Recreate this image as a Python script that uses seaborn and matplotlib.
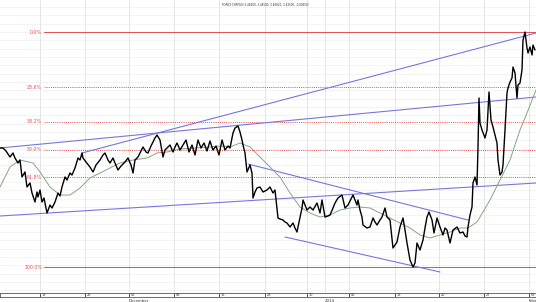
import numpy as np
import pandas as pd
import matplotlib
matplotlib.use("Agg")
import matplotlib.pyplot as plt
import seaborn as sns

sns.set_style("white")
plt.rcParams['font.family'] = ['DejaVu Sans']

title = "FOREX CHFPLN (3.44400, 3.44500, 3.40820, 3.43500, -0.00450)"

# price series: bar index and close
bars = [0,3,6,10,13,15,18,20,22,25,27,30,32,35,37,38,40,42,44,47,50,52,55,58,60,62,65,67,70,72,75,78,80,82,83,86,90,93,96,100,
        103,105,108,110,113,115,118,121,125,128,131,133,135,138,140,143,146,148,151,153,155,157,160,163,165,167,170,173,175,177,
        180,183,186,189,192,195,198,201,204,207,210,213,216,219,222,225,228,230,233,235,238,240,242,243,245,247,250,252,253,255,
        257,260,263,267,270,273,275,278,280,283,285,287,290,293,295,297,298,302,303,305,307,310,313,317,320,322,325,328,330,333,
        335,338,342,345,348,352,353,355,357,358,360,362,363,367,370,373,375,377,380,382,385,387,390,393,395,397,400,403,405,407,
        410,413,415,417,420,423,425,427,429,432,434,437,440,443,445,447,450,453,457,460,463,465,467,468,470,472,473,475,477,478,
        479,480,482,485,487,489,491,493,495,497,498,500,502,503,505,507,508,510,512,513,515,517,518,520,522,523,525,527,528,530,
        532,533,535]
close = [3.4102,3.4102,3.4093,3.4075,3.4087,3.4072,3.4057,3.4066,3.4015,3.4030,3.3985,3.3997,3.3967,3.3940,3.3970,3.3955,3.3976,3.3940,3.3952,3.3907,
         3.3931,3.3922,3.3940,3.3967,3.3958,3.3985,3.4015,3.4006,3.4027,3.4021,3.4042,3.4072,3.4066,3.4087,3.4072,3.4060,3.4045,3.4030,3.4051,3.4066,
         3.4081,3.4087,3.4066,3.4057,3.4072,3.4057,3.4036,3.4048,3.4060,3.4072,3.4051,3.4027,3.4066,3.4075,3.4087,3.4105,3.4090,3.4087,3.4108,3.4120,
         3.4132,3.4141,3.4126,3.4075,3.4096,3.4102,3.4111,3.4090,3.4105,3.4117,3.4096,3.4111,3.4126,3.4090,3.4111,3.4081,3.4126,3.4102,3.4117,3.4093,
         3.4123,3.4096,3.4108,3.4081,3.4126,3.4096,3.4108,3.4102,3.4147,3.4162,3.4168,3.4150,3.4126,3.4111,3.4087,3.4030,3.4051,3.4027,3.3952,3.3970,
         3.3982,3.3985,3.3970,3.3976,3.3985,3.3967,3.3976,3.3892,3.3889,3.3886,3.3880,3.3877,3.3865,3.3877,3.3862,3.3850,3.3865,3.3922,3.3946,3.3931,
         3.3916,3.3925,3.3916,3.3937,3.3907,3.3946,3.3895,3.3898,3.3901,3.3922,3.3937,3.3952,3.3961,3.3922,3.3931,3.3955,3.3961,3.3946,3.3931,3.3946,
         3.3916,3.3895,3.3871,3.3862,3.3865,3.3892,3.3880,3.3871,3.3886,3.3895,3.3922,3.3895,3.3886,3.3802,3.3811,3.3820,3.3865,3.3892,3.3856,3.3817,
         3.3766,3.3745,3.3757,3.3817,3.3796,3.3826,3.3862,3.3895,3.3910,3.3886,3.3847,3.3892,3.3865,3.3841,3.3862,3.3856,3.3817,3.3856,3.3865,3.3847,
         3.3850,3.3838,3.3835,3.3865,3.3901,3.3925,3.3997,3.4015,3.3991,3.4105,3.4252,3.4177,3.4156,3.4132,3.4156,3.4270,3.4186,3.4165,3.4141,3.4117,
         3.4066,3.4021,3.4030,3.4051,3.4156,3.4267,3.4282,3.4300,3.4312,3.4345,3.4327,3.4252,3.4291,3.4297,3.4336,3.4426,3.4450,3.4402,3.4387,3.4405,
         3.4381,3.4411,3.4396]

# moving average (green)
ma_bars = [0,10,20,33,40,50,60,70,80,90,100,110,120,133,147,157,167,180,195,210,220,230,240,250,260,270,280,290,300,310,
           320,330,340,350,360,370,380,390,400,410,420,430,440,450,460,468,477,480,490,500,510,520,527,536]
ma_vals = [3.3985,3.4045,3.4066,3.4057,3.4030,3.3985,3.3961,3.3961,3.3982,3.4012,3.4027,3.4042,3.4057,3.4066,3.4072,3.4087,3.4090,3.4099,3.4102,3.4105,
           3.4108,3.4105,3.4117,3.4105,3.4075,3.4045,3.4015,3.3967,3.3925,3.3907,3.3895,3.3901,3.3916,3.3922,3.3925,3.3922,3.3907,3.3892,3.3877,3.3862,
           3.3841,3.3832,3.3841,3.3850,3.3862,3.3862,3.3880,3.3895,3.3946,3.4006,3.4066,3.4156,3.4207,3.4276]

# trend lines: (bar0, price0, bar1, price1)
trend_x0 = [0, 0, 82, 248, 285]
trend_y0 = [3.3898, 3.4102, 3.4087, 3.4054, 3.3835]
trend_x1 = [536, 536, 536, 468, 440]
trend_y1 = [3.3997, 3.4255, 3.4447, 3.3886, 3.3730]

fib_levels = [0.0, 23.6, 38.2, 50.0, 61.8, 100.0]
fib_labels = ["0.0%", "23.6%", "38.2%", "50.0%", "61.8%", "100.0%"]

week_ticks = [40, 85, 129, 174, 219, 265, 307, 349, 395, 439, 484, 529]
week_labels = ["18", "25", "02", "09", "16", "23", "30", "06", "13", "20", "27", "03"]
month_ticks = [129, 325, 529]
month_labels = ["December", "2014", "Febr"]

W, H = 536, 302
fig = plt.figure(figsize=(W/100, H/100), dpi=100)
ax = fig.add_axes([0, 10/H, 1, 292/H])
ax.set_xlim(0, 536)
ax.set_ylim(3.3670, 3.4546)
for s in ax.spines.values():
    s.set_visible(False)
ax.set_xticks([]); ax.set_yticks([])

# faint grid
for yv in np.arange(3.3675, 3.4546, 0.0025):
    ax.axhline(yv, color="#f2f0f0", lw=0.5, zorder=0)
for xv in week_ticks + [325]:
    ax.axvline(xv, color="#e0e0e0", lw=0.6, zorder=0)

# fibonacci levels
hi, lo = max(close), min(close)
for lev, lab in zip(fib_levels, fib_labels):
    yv = hi - (hi - lo) * lev / 100.0
    ls = "-" if lev in (0.0, 100.0) else (0, (1, 1.2))
    ax.plot([44, 536], [yv, yv], color="#e05050", lw=0.7, ls=ls, zorder=1)
    ax.text(42, yv, lab, color="#e05050", fontsize=3.4, ha="right", va="center")

# trend lines
for x0, y0, x1, y1 in zip(trend_x0, trend_y0, trend_x1, trend_y1):
    ax.plot([x0, x1], [y0, y1], color="#7676e2", lw=0.8, zorder=2)

df_ma = pd.DataFrame({"bar": ma_bars, "val": ma_vals})
sns.lineplot(data=df_ma, x="bar", y="val", ax=ax, color="#80a880", lw=0.7, zorder=3)
df = pd.DataFrame({"bar": bars, "close": close})
sns.lineplot(data=df, x="bar", y="close", ax=ax, color="black", lw=1.0, zorder=4)
ax.set_xlabel(""); ax.set_ylabel("")

ax.text(222, 3.4546 - 5*0.0003, title, fontsize=2.0, color="#333333", ha="left", va="center")

# bottom date strip
sx = fig.add_axes([0, 5.5/H, 1, 3.5/H])
sx.set_xlim(0, 536); sx.set_ylim(0, 1)
sx.set_xticks([]); sx.set_yticks([])
for s in sx.spines.values():
    s.set_color("#555555"); s.set_linewidth(0.6)
for t, lab in zip(week_ticks, week_labels):
    sx.plot([t, t], [0, 1], color="#333333", lw=0.6)
    sx.text(t + 1.5, 0.5, lab, fontsize=2.5, color="#333333", va="center", ha="left")
for t, lab in zip(month_ticks, month_labels):
    fig.text(t / W, 1.5 / H, lab, fontsize=2.8, color="#333333", ha="left", va="center")

fig.savefig("out.png", dpi=100)
